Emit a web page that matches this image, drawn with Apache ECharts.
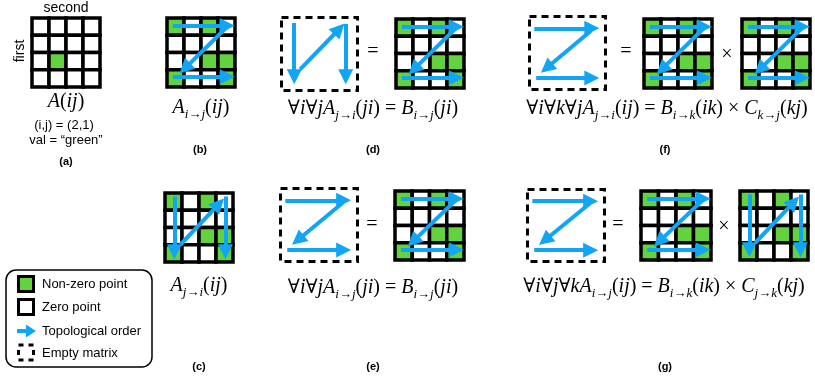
<!DOCTYPE html>
<html><head><meta charset="utf-8">
<script src="https://cdn.jsdelivr.net/npm/echarts@6/dist/echarts.min.js"></script>
<style>html,body{margin:0;padding:0;background:#fff}#c{width:815px;height:378px}</style>
</head><body><div id="c"></div>
<script>
// ---- data ----
const GRID_SIZE = 4;
const GREEN_SINGLE = [[1, 2]];                       // (col,row) of non-zero cell in (a)
const GREEN_PATTERN = [[0,0],[2,0],[2,2],[3,2],[0,3],[3,3]];
const ARROWS_ROW_MAJOR = [
  [[0.35, 0.45], [3.55, 0.45]],
  [[3.5, 0.55], [1.05, 2.92]],
  [[0.35, 3.4], [3.55, 3.4]]
];
const ARROWS_COL_MAJOR = [
  [[0.55, 0.2], [0.55, 3.4]],
  [[0.9, 3.0], [3.17, 0.64]],
  [[3.55, 0.2], [3.55, 3.4]]
];
const ARROWS_EMPTY_ROW = [
  [[0.25, 0.65], [3.28, 0.65]],
  [[3.22, 0.79], [0.9, 2.82]],
  [[0.35, 3.37], [3.28, 3.37]]
];
const ARROWS_EMPTY_COL = [
  [[0.67, 0.3], [0.67, 3.25]],
  [[0.98, 2.84], [3.04, 0.63]],
  [[3.38, 0.35], [3.38, 3.25]]
];
const FORMULA_A = 'A(ij)';
const FORMULA_B = 'A_{i→j}(ij)';
const FORMULA_C = 'A_{j→i}(ij)';
const FORMULA_D = '∀i∀jA_{j→i}(ji) = B_{i→j}(ji)';
const FORMULA_E = '∀i∀jA_{i→j}(ji) = B_{i→j}(ji)';
const FORMULA_F = '∀i∀k∀jA_{j→i}(ij) = B_{i→k}(ik) × C_{k→j}(kj)';
const FORMULA_G = '∀i∀j∀kA_{i→j}(ij) = B_{i→k}(ik) × C_{j→k}(kj)';
const PANEL_LABELS = ['(a)', '(b)', '(c)', '(d)', '(e)', '(f)', '(g)'];
const LEGEND_ITEMS = ['Non-zero point', 'Zero point', 'Topological order', 'Empty matrix'];

// ---- style ----
const GREEN = '#63d23f';
const BLUE = '#12a5f4';
const SERIF = '"Liberation Serif","Times New Roman","DejaVu Serif",serif';
const SANS = '"Liberation Sans",Arial,Helvetica,sans-serif';

// ---- layout ----
const PANELS = [
  {kind: 'filled', green: GREEN_SINGLE, arrows: null, box: [32, 18, 68, 69]},
  {kind: 'filled', green: GREEN_PATTERN, arrows: ARROWS_ROW_MAJOR, box: [167, 18, 68, 69]},
  {kind: 'empty', arrows: ARROWS_EMPTY_COL, box: [281.5, 17.5, 76, 73]},
  {kind: 'filled', green: GREEN_PATTERN, arrows: ARROWS_ROW_MAJOR, box: [396, 19, 68, 69]},
  {kind: 'empty', arrows: ARROWS_EMPTY_ROW, box: [529.5, 16.5, 76, 73]},
  {kind: 'filled', green: GREEN_PATTERN, arrows: ARROWS_ROW_MAJOR, box: [644, 19, 68, 69]},
  {kind: 'filled', green: GREEN_PATTERN, arrows: ARROWS_ROW_MAJOR, box: [742, 19, 68, 69]},
  {kind: 'filled', green: GREEN_PATTERN, arrows: ARROWS_COL_MAJOR, box: [165, 193, 68, 69]},
  {kind: 'empty', arrows: ARROWS_EMPTY_ROW, box: [280.5, 188.5, 77, 73]},
  {kind: 'filled', green: GREEN_PATTERN, arrows: ARROWS_ROW_MAJOR, box: [395, 191, 69, 69]},
  {kind: 'empty', arrows: ARROWS_EMPTY_ROW, box: [527.5, 189.5, 77, 72]},
  {kind: 'filled', green: GREEN_PATTERN, arrows: ARROWS_ROW_MAJOR, box: [641, 191, 70, 69]},
  {kind: 'filled', green: GREEN_PATTERN, arrows: ARROWS_COL_MAJOR, box: [740, 191, 68, 69]}
];

const grids = [], xAxes = [], yAxes = [], series = [];
PANELS.forEach((p, i) => {
  grids.push({left: p.box[0], top: p.box[1], width: p.box[2], height: p.box[3], show: false, outerBoundsMode: 'none', containLabel: false});
  xAxes.push({gridIndex: i, type: 'value', min: 0, max: GRID_SIZE, show: false});
  yAxes.push({gridIndex: i, type: 'value', min: 0, max: GRID_SIZE, inverse: true, show: false});
  if (p.kind === 'filled') {
    const cells = [];
    for (let r = 0; r < GRID_SIZE; r++) for (let c = 0; c < GRID_SIZE; c++) {
      const g = p.green.some(v => v[0] === c && v[1] === r) ? 1 : 0;
      cells.push([c, r, g]);
    }
    series.push({
      type: 'custom', xAxisIndex: i, yAxisIndex: i, silent: true, z: 2, data: cells,
      renderItem: (params, api) => {
        const c = api.value(0), r = api.value(1), g = api.value(2);
        const p0 = api.coord([c, r]), p1 = api.coord([c + 1, r + 1]);
        return {type: 'rect', shape: {x: p0[0], y: p0[1], width: p1[0] - p0[0], height: p1[1] - p0[1]},
          style: {fill: g ? GREEN : '#fff', stroke: '#000', lineWidth: 3.5}};
      }
    });
  } else {
    series.push({
      type: 'custom', xAxisIndex: i, yAxisIndex: i, silent: true, z: 2, data: [[0, 0, GRID_SIZE]],
      renderItem: (params, api) => {
        const p0 = api.coord([api.value(0), api.value(1)]), p1 = api.coord([api.value(2), api.value(2)]);
        return {type: 'rect', shape: {x: p0[0], y: p0[1], width: p1[0] - p0[0], height: p1[1] - p0[1]},
          style: {fill: 'none', stroke: '#000', lineWidth: 3, lineDash: [7, 5]}};
      }
    });
  }
  if (p.arrows) {
    series.push({
      type: 'lines', coordinateSystem: 'cartesian2d', xAxisIndex: i, yAxisIndex: i, silent: true, z: 5,
      symbol: ['none', 'triangle'], symbolSize: [15, 15],
      lineStyle: {color: BLUE, width: 4, opacity: 1, curveness: 0},
      itemStyle: {color: BLUE},
      data: p.arrows.map(a => ({coords: a}))
    });
  }
});

// ---- rich formula text ----
const RICH = {
  it: {fontFamily: SERIF, fontStyle: 'italic', fontSize: 20, lineHeight: 26, fill: '#000'},
  rm: {fontFamily: SERIF, fontSize: 20, lineHeight: 26, fill: '#000'},
  sub: {fontFamily: SERIF, fontStyle: 'italic', fontSize: 13, lineHeight: 10, verticalAlign: 'bottom', fill: '#000'}
};
function toRich(f) {
  const toks = [];
  let i = 0;
  while (i < f.length) {
    const ch = f[i];
    if (ch === '_' && f[i + 1] === '{') {
      const j = f.indexOf('}', i);
      toks.push(['sub', f.slice(i + 2, j)]); i = j + 1; continue;
    }
    const k = /[A-Za-z]/.test(ch) ? 'it' : 'rm';
    if (toks.length && toks[toks.length - 1][0] === k) toks[toks.length - 1][1] += ch;
    else toks.push([k, ch]);
    i++;
  }
  return toks.map(t => '{' + t[0] + '|' + t[1] + '}').join('');
}
function formula(txt, x, y) {
  return {type: 'text', x: x, y: y, z: 10, style: {text: toRich(txt), rich: RICH, align: 'center', verticalAlign: 'middle'}};
}
function plain(txt, x, y, font, align, rotation) {
  const el = {type: 'text', x: x, y: y, z: 10, style: {text: txt, font: font, fill: '#000', align: align || 'center', verticalAlign: 'middle'}};
  if (rotation) el.rotation = rotation;
  return el;
}

const LABEL_FONT = 'bold 11px ' + SANS;
const LEGEND_FONT = '13px ' + SANS;
const graphics = [
  plain('second', 66, 8, '14px ' + SANS),
  plain('first', 20, 51, '14px ' + SANS, 'center', Math.PI / 2),
  formula(FORMULA_A, 66, 102),
  plain('(i,j) = (2,1)', 64, 125, '13px ' + SANS),
  plain('val = \u201cgreen\u201d', 66, 140, '13px ' + SANS),
  formula(FORMULA_B, 201, 108),
  formula(FORMULA_D, 373, 109),
  formula(FORMULA_F, 667, 109),
  formula(FORMULA_C, 199, 286),
  formula(FORMULA_E, 373, 288),
  formula(FORMULA_G, 664, 287),
  plain('=', 373, 52, '20px ' + SERIF),
  plain('=', 626, 52, '20px ' + SERIF),
  plain('×', 727, 55, '20px ' + SERIF),
  plain('=', 372, 225, '20px ' + SERIF),
  plain('=', 618, 225, '20px ' + SERIF),
  plain('×', 724, 227, '20px ' + SERIF),
  plain(PANEL_LABELS[0], 66, 162, LABEL_FONT),
  plain(PANEL_LABELS[1], 200, 150, LABEL_FONT),
  plain(PANEL_LABELS[2], 199, 367, LABEL_FONT),
  plain(PANEL_LABELS[3], 373, 150, LABEL_FONT),
  plain(PANEL_LABELS[4], 373, 367, LABEL_FONT),
  plain(PANEL_LABELS[5], 665, 150, LABEL_FONT),
  plain(PANEL_LABELS[6], 665, 367, LABEL_FONT),
  // legend
  {type: 'rect', z: 10, shape: {x: 6, y: 270, width: 146, height: 97, r: 10}, style: {fill: 'none', stroke: '#000', lineWidth: 1.5}},
  {type: 'rect', z: 10, shape: {x: 18.5, y: 276.5, width: 15, height: 15}, style: {fill: GREEN, stroke: '#000', lineWidth: 3}},
  {type: 'rect', z: 10, shape: {x: 18.5, y: 299.5, width: 15, height: 15}, style: {fill: '#fff', stroke: '#000', lineWidth: 3}},
  {type: 'line', z: 10, shape: {x1: 17, y1: 331, x2: 28, y2: 331}, style: {stroke: BLUE, lineWidth: 4}},
  {type: 'polygon', z: 10, shape: {points: [[26, 324.5], [36, 331], [26, 337.5]]}, style: {fill: BLUE}},
  {type: 'rect', z: 10, shape: {x: 18.5, y: 345, width: 15, height: 15}, style: {fill: 'none', stroke: '#000', lineWidth: 3, lineDash: [5, 5]}},
  plain(LEGEND_ITEMS[0], 42, 284, LEGEND_FONT, 'left'),
  plain(LEGEND_ITEMS[1], 42, 307, LEGEND_FONT, 'left'),
  plain(LEGEND_ITEMS[2], 42, 331, LEGEND_FONT, 'left'),
  plain(LEGEND_ITEMS[3], 42, 353, LEGEND_FONT, 'left')
];

const chart = echarts.init(document.getElementById('c'), null, {renderer: 'canvas'});
chart.setOption({
  animation: false,
  backgroundColor: '#fff',
  grid: grids, xAxis: xAxes, yAxis: yAxes, series: series,
  graphic: {elements: graphics}
});
</script></body></html>
